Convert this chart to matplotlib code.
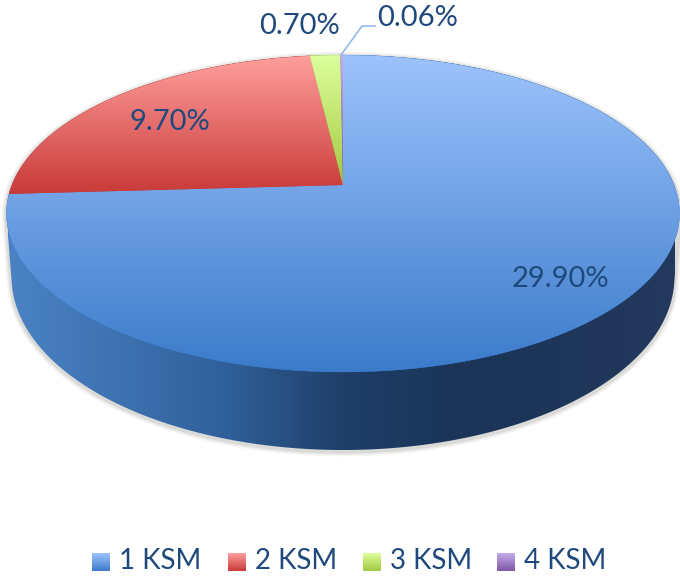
import numpy as np
import matplotlib
matplotlib.use("Agg")
import matplotlib.pyplot as plt
from matplotlib.colors import LinearSegmentedColormap as LSC
from matplotlib.patches import Polygon, Rectangle

categories = ["1 KSM", "2 KSM", "3 KSM", "4 KSM"]
values = [29.90, 9.70, 0.70, 0.06]
labels = ["29.90%", "9.70%", "0.70%", "0.06%"]
label_xy = [(560, 279), (170, 122), (300, 26), (418, 18)]
tops = ["#9DC3FC", "#FF9F9D", "#DDFF9C", "#C5ADE9"]
bottoms = ["#3B7BCA", "#C83A38", "#A3C840", "#7F57A8"]
TXT = "#1F497D"
FONT = "Lato"

CX, P = 343.0, 0.18
TOP = dict(a=331.0, y0=185.0, b=120.0)
LOW = dict(a=326.0, y0=246.0, b=123.0)

fig = plt.figure(figsize=(6.8, 5.76), dpi=100)
ax = fig.add_axes([0, 0, 1, 1])
ax.set_xlim(0, 680)
ax.set_ylim(576, 0)
ax.axis("off")


def proj(theta, plane):
    """theta: clockwise from the top, radians; r=1 rim of a perspective disc."""
    u, v = np.sin(theta), np.cos(theta)
    w = 1 + P * v
    return np.column_stack([CX + plane["a"] * u / w, (plane["y0"] - plane["b"] * v) / w])


def gradient(colors, extent, clip, horizontal=False, zorder=2):
    cmap = LSC.from_list("g", colors)
    g = np.linspace(0, 1, 256)
    g = g[None, :] if horizontal else g[:, None]
    im = ax.imshow(g, cmap=cmap, extent=extent, aspect="auto", zorder=zorder,
                   vmin=0, vmax=1, interpolation="bilinear", origin="lower")
    im.set_clip_path(clip)


def hull(pts):
    pts = sorted(map(tuple, pts))
    def half(seq):
        out = []
        for p in seq:
            while len(out) > 1 and ((out[-1][0]-out[-2][0])*(p[1]-out[-2][1])
                                    - (out[-1][1]-out[-2][1])*(p[0]-out[-2][0])) <= 0:
                out.pop()
            out.append(p)
        return out[:-1]
    return np.array(half(pts) + half(pts[::-1]))


rim = np.linspace(0, 2 * np.pi, 721)
body = hull(np.vstack([proj(rim, TOP), proj(rim, LOW)]))

# soft shadow
for lw, al in [(7, 0.05), (5, 0.07), (3, 0.10)]:
    ax.add_patch(Polygon(body + [0, 1.5], closed=True, fc="none", ec="#555048",
                         lw=lw, alpha=al, zorder=1))

# side wall
side = Polygon(body, closed=True, fc="none", ec="none", transform=ax.transData)
ax.add_patch(side)
gradient(["#4A82C4", "#3D72B0", "#2F5F98", "#1F3F69", "#1A3558", "#1E3658", "#23395E"],
         (8, 675, 50, 460), side, horizontal=True)

# top face wedges
fracs = np.array(values) / np.sum(values)
edges = np.concatenate([[0], np.cumsum(fracs)]) * 2 * np.pi
apex = np.array([[CX, TOP["y0"]]])
for i in range(len(values)):
    th = np.linspace(edges[i], edges[i + 1], max(4, int((edges[i + 1] - edges[i]) * 120)))
    poly = np.vstack([apex, proj(th, TOP)])
    patch = Polygon(poly, closed=True, fc=bottoms[i], ec=bottoms[i], lw=0.3, zorder=3)
    ax.add_patch(patch)
    ymin, ymax = poly[:, 1].min(), poly[:, 1].max()
    xmin, xmax = poly[:, 0].min(), poly[:, 0].max()
    gradient([tops[i], bottoms[i]], (xmin - 1, xmax + 1, ymin, ymax), patch, zorder=4)

# leader for the smallest slice
ax.plot([341, 362, 375], [55, 26, 26], color="#8DB4E8", lw=1.1, zorder=5)

for s, (x, y) in zip(labels, label_xy):
    ax.text(x, y, s, color=TXT, fontsize=21, family=FONT, ha="center", va="center", zorder=6)

# legend
leg_x = [92, 228, 363, 497]
for c, t, b, x in zip(categories, tops, bottoms, leg_x):
    r = Rectangle((x, 553), 18, 18, fc=b, ec="none", zorder=2)
    ax.add_patch(r)
    gradient([t, b], (x, x + 18, 553, 571), r, zorder=3)
    ax.text(x + 27, 561, c, color=TXT, fontsize=20, family=FONT, ha="left", va="center")

ax.set_xlim(0, 680)
ax.set_ylim(576, 0)
fig.savefig("out.png", dpi=100, facecolor="white")
